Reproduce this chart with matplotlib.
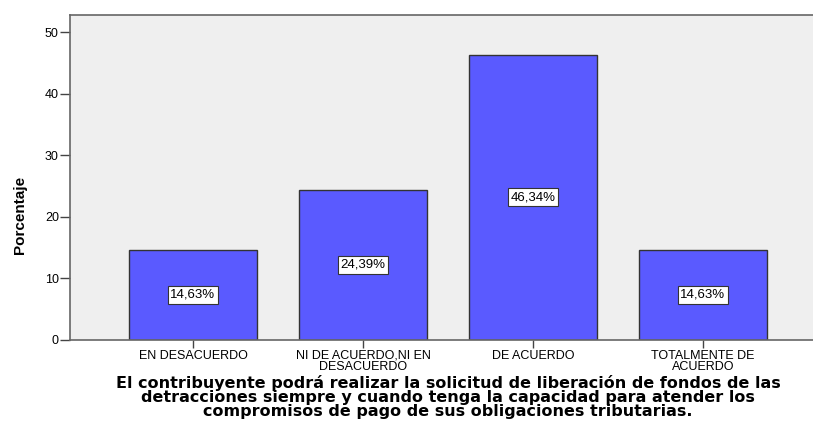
import matplotlib
matplotlib.use("Agg")
import matplotlib.pyplot as plt

categories = ["EN DESACUERDO", "NI DE ACUERDO,NI EN\nDESACUERDO", "DE ACUERDO", "TOTALMENTE DE\nACUERDO"]
values = [14.63, 24.39, 46.34, 14.63]
labels = ["14,63%", "24,39%", "46,34%", "14,63%"]
yticks = [0, 10, 20, 30, 40, 50]
xlabel = ("El contribuyente podrá realizar la solicitud de liberación de fondos de las\n"
          "detracciones siempre y cuando tenga la capacidad para atender los\n"
          "compromisos de pago de sus obligaciones tributarias.")

plt.rcParams['font.family'] = ['Liberation Sans', 'DejaVu Sans']

fig = plt.figure(figsize=(8.13, 4.21), dpi=100)
ax = fig.add_axes([70/813, 1-340/421, 756/813, (340-15)/421])
ax.set_facecolor('#efefef')

x = list(range(len(categories)))
ax.bar(x, values, width=0.753, color='#5a5aff', edgecolor='#333333', linewidth=1.0, zorder=2)
for xi, v, lab in zip(x, values, labels):
    ax.text(xi, v/2, lab, ha='center', va='center', fontsize=9.5, color='black', zorder=3,
            bbox=dict(boxstyle='square,pad=0.22', facecolor='white', edgecolor='#333333', linewidth=0.8))

ax.set_xlim(-0.7235, 3.7235)
ax.set_ylim(0, 52.8)
ax.set_yticks(yticks)
ax.set_yticklabels([str(t) for t in yticks], fontsize=9)
ax.set_xticks(x)
ax.set_xticklabels(categories, fontsize=9, linespacing=0.92)
ax.tick_params(axis='y', direction='out', length=7, width=1, color='#444444', pad=1)
ax.tick_params(axis='x', direction='out', length=6, width=1, color='#444444', pad=1)

for s in ['left', 'bottom', 'top']:
    ax.spines[s].set_color('#666666')
    ax.spines[s].set_linewidth(1.2)
ax.spines['right'].set_visible(False)

ax.set_ylabel("Porcentaje", fontsize=11, fontweight='bold', va='center')
ax.yaxis.set_label_coords(-0.066, 0.385)
fig.text(448/813, 1-375/421, xlabel, ha='center', va='top', fontsize=11.5,
         fontweight='bold', linespacing=0.9, family='DejaVu Sans')

fig.savefig("out.png", dpi=100)
